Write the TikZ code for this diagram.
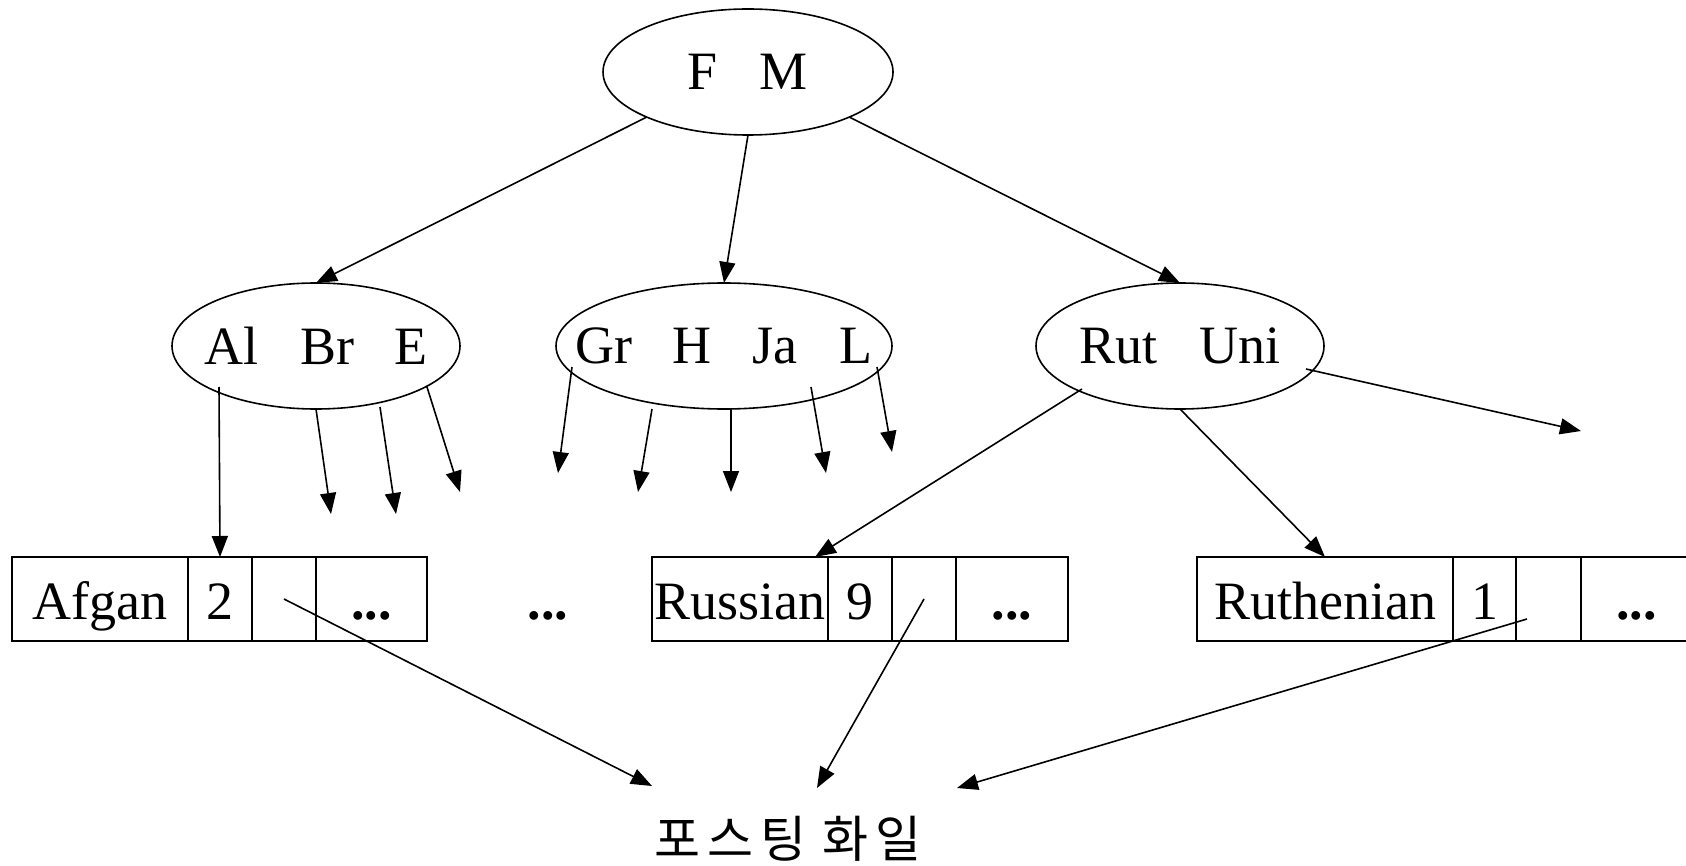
\documentclass[tikz,border=0pt]{standalone}
\usepackage{fontspec}
\setmainfont{Liberation Serif}
\newfontfamily\kofont{Noto Sans CJK KR}
\usetikzlibrary{shapes.geometric,arrows.meta}

\begin{document}
\begin{tikzpicture}[x=0.5pt,y=-0.5pt,
  every node/.style={font=\fontsize{27}{32}\selectfont, inner sep=0pt, outer sep=0pt},
  keynode/.style={ellipse, draw, line width=0.8pt, minimum height=63pt},
  keys/.code={\tikzset{node contents={\makebox[0pt]{#1}}}},
  cell/.style={rectangle, draw, line width=0.8pt, minimum height=42pt, anchor=west,
    text height=26pt, text depth=6pt},
  link/.style={line width=0.8pt, -{Triangle[length=10.5pt,width=8pt]}},
  plain/.style={line width=0.8pt}]
\clip (0,0) rectangle (1686,866);

% index nodes of the B-tree
\node[keynode, minimum width=145pt] (T) at (748,72) {\makebox[0pt]{F\hspace{21pt}M}};
\node[keynode, minimum width=144pt] (L) at (316,346) {\makebox[0pt]{Al\hspace{21pt}Br\hspace{20pt}E}};
\node[keynode, minimum width=168pt] (M) at (724,346) {\makebox[0pt]{Gr\hspace{20pt}H\hspace{20.5pt}Ja\hspace{21pt}L}};
\node[keynode, minimum width=144pt] (R) at (1180,346) {\makebox[0pt]{Rut\hspace{21pt}Uni}};

% leaf records: term | count | pointer | ...
\node[cell, minimum width=88pt] (a1) at (12,599) {Afgan};
\node[cell, minimum width=32pt] (a2) at (188,599) {2};
\node[cell, minimum width=32pt] (a3) at (252,599) {};
\node[cell, minimum width=55.5pt] (a4) at (316,599) {\textbf{...}};

\node[text height=26pt, text depth=6pt] (dots) at (548,599) {\textbf{...}};

\node[cell, minimum width=88pt] (r1) at (652,599) {Russian};
\node[cell, minimum width=32pt] (r2) at (828,599) {9};
\node[cell, minimum width=32pt] (r3) at (892,599) {};
\node[cell, minimum width=56pt] (r4) at (956,599) {\textbf{...}};

\node[cell, minimum width=128pt] (u1) at (1197,599) {Ruthenian};
\node[cell, minimum width=31.5pt] (u2) at (1453,599) {1};
\node[cell, minimum width=32.5pt] (u3) at (1516,599) {};
\node[cell, minimum width=55.5pt] (u4) at (1581,599) {\textbf{...}};

% postings file
\node (P) at (788,839) {\kofont\fontsize{25}{30}\selectfont 포\hspace{3.5pt}스\hspace{3.5pt}팅\hspace{8pt}화\hspace{3.5pt}일};

% root to children
\draw[link] (T.204) -- (L.north);
\draw[link] (T.south) -- (M.north);
\draw[link] (T.336) -- (R.north);

% branches of the left node
\coordinate (l1s) at (219,387);
\coordinate (l2e) at (331,514);
\coordinate (l3s) at (380,407);
\coordinate (l3e) at (396,514);
\coordinate (l4s) at (427,387);
\coordinate (l4e) at (460,492);
\draw[link] (l1s) -- (a2.north);
\draw[link] (L.south) -- (l2e);
\draw[link] (l3s) -- (l3e);
\draw[link] (l4s) -- (l4e);

% branches of the middle node
\coordinate (m1s) at (572,367);
\coordinate (m1e) at (558,473);
\coordinate (m2s) at (652,409);
\coordinate (m2e) at (638,492);
\coordinate (m3s) at (731,409);
\coordinate (m3e) at (731,492);
\coordinate (m4s) at (811,387);
\coordinate (m4e) at (826,473);
\coordinate (m5s) at (877,367);
\coordinate (m5e) at (892,452);
\draw[link] (m1s) -- (m1e);
\draw[link] (m2s) -- (m2e);
\draw[link] (m3s) -- (m3e);
\draw[link] (m4s) -- (m4e);
\draw[link] (m5s) -- (m5e);

% branches of the right node
\coordinate (q1s) at (1082,389);
\coordinate (q3s) at (1306,369);
\coordinate (q3e) at (1581,431);
\draw[link] (q1s) -- ([xshift=-6.5pt]r1.north east);
\draw[link] (R.south) -- (u1.north);
\draw[link] (q3s) -- (q3e);

% pointers into the postings file
\coordinate (p1) at (652,786);
\coordinate (p2) at (817,788);
\coordinate (p3) at (957,788);
\coordinate (u3s) at (1527,619);
\draw[link] (a3.center) -- (p1);
\draw[link] (r3.center) -- (p2);
\draw[link] (u3s) -- (p3);
\end{tikzpicture}
\end{document}
